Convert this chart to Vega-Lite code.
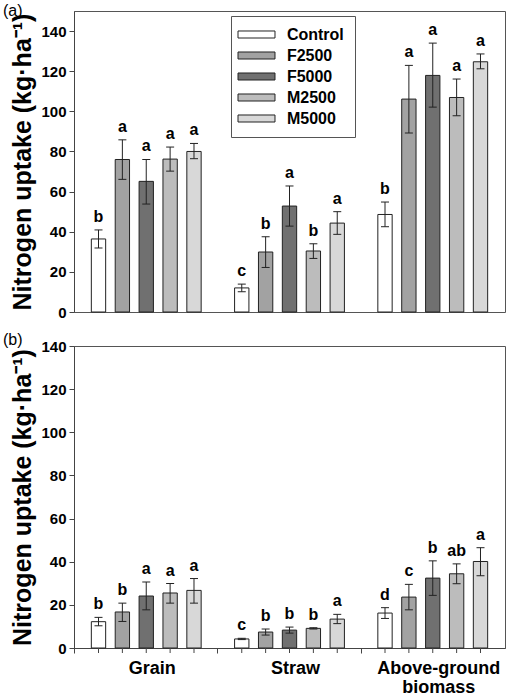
{
  "$schema": "https://vega.github.io/schema/vega-lite/v6.json",
  "padding": {"left": 2, "top": 2, "right": 4, "bottom": 0},
  "config": {
    "font": "Liberation Sans",
    "view": {"stroke": "#555", "strokeWidth": 1},
    "axis": {"domainColor": "#444", "tickColor": "#444", "grid": false},
    "axisY": {
      "values": [0, 20, 40, 60, 80, 100, 120, 140],
      "labelFontSize": 15, "labelFontWeight": "bold", "labelColor": "black",
      "tickSize": 5, "labelPadding": 3,
      "titleFontSize": 25, "titleFontWeight": "bold", "titleColor": "black", "titlePadding": 5
    }
  },
  "datasets": {
    "a": [
      {"part": "Grain", "trt": "Control", "mean": 36.4, "lo": 31.9, "hi": 40.9, "letter": "b"},
      {"part": "Grain", "trt": "F2500", "mean": 76.0, "lo": 66.1, "hi": 85.8, "letter": "a"},
      {"part": "Grain", "trt": "F5000", "mean": 65.1, "lo": 53.8, "hi": 76.0, "letter": "a"},
      {"part": "Grain", "trt": "M2500", "mean": 76.2, "lo": 70.2, "hi": 82.2, "letter": "a"},
      {"part": "Grain", "trt": "M5000", "mean": 80.0, "lo": 76.4, "hi": 84.0, "letter": "a"},
      {"part": "Straw", "trt": "Control", "mean": 12.0, "lo": 10.1, "hi": 13.9, "letter": "c"},
      {"part": "Straw", "trt": "F2500", "mean": 29.9, "lo": 22.2, "hi": 37.5, "letter": "b"},
      {"part": "Straw", "trt": "F5000", "mean": 52.8, "lo": 42.8, "hi": 62.8, "letter": "a"},
      {"part": "Straw", "trt": "M2500", "mean": 30.4, "lo": 26.7, "hi": 34.0, "letter": "b"},
      {"part": "Straw", "trt": "M5000", "mean": 44.3, "lo": 38.7, "hi": 50.0, "letter": "a"},
      {"part": "Above-ground biomass", "trt": "Control", "mean": 48.6, "lo": 42.5, "hi": 54.8, "letter": "b"},
      {"part": "Above-ground biomass", "trt": "F2500", "mean": 106.1, "lo": 89.2, "hi": 122.9, "letter": "a"},
      {"part": "Above-ground biomass", "trt": "F5000", "mean": 117.9, "lo": 102.1, "hi": 134.0, "letter": "a"},
      {"part": "Above-ground biomass", "trt": "M2500", "mean": 106.9, "lo": 97.8, "hi": 116.1, "letter": "a"},
      {"part": "Above-ground biomass", "trt": "M5000", "mean": 124.7, "lo": 121.2, "hi": 128.6, "letter": "a"}
    ],
    "b": [
      {"part": "Grain", "trt": "Control", "mean": 12.2, "lo": 10.3, "hi": 14.2, "letter": "b"},
      {"part": "Grain", "trt": "F2500", "mean": 16.7, "lo": 12.3, "hi": 20.8, "letter": "b"},
      {"part": "Grain", "trt": "F5000", "mean": 24.1, "lo": 17.7, "hi": 30.6, "letter": "a"},
      {"part": "Grain", "trt": "M2500", "mean": 25.5, "lo": 20.8, "hi": 29.9, "letter": "a"},
      {"part": "Grain", "trt": "M5000", "mean": 26.7, "lo": 20.8, "hi": 32.2, "letter": "a"},
      {"part": "Straw", "trt": "Control", "mean": 4.2, "lo": 3.9, "hi": 4.5, "letter": "c"},
      {"part": "Straw", "trt": "F2500", "mean": 7.4, "lo": 6.0, "hi": 8.8, "letter": "b"},
      {"part": "Straw", "trt": "F5000", "mean": 8.3, "lo": 6.9, "hi": 9.7, "letter": "b"},
      {"part": "Straw", "trt": "M2500", "mean": 9.1, "lo": 8.8, "hi": 9.4, "letter": "b"},
      {"part": "Straw", "trt": "M5000", "mean": 13.4, "lo": 11.3, "hi": 15.6, "letter": "a"},
      {"part": "Above-ground biomass", "trt": "Control", "mean": 16.2, "lo": 13.7, "hi": 18.7, "letter": "d"},
      {"part": "Above-ground biomass", "trt": "F2500", "mean": 23.6, "lo": 17.7, "hi": 29.5, "letter": "c"},
      {"part": "Above-ground biomass", "trt": "F5000", "mean": 32.4, "lo": 24.4, "hi": 40.4, "letter": "b"},
      {"part": "Above-ground biomass", "trt": "M2500", "mean": 34.4, "lo": 29.8, "hi": 39.0, "letter": "ab"},
      {"part": "Above-ground biomass", "trt": "M5000", "mean": 40.1, "lo": 33.5, "hi": 46.5, "letter": "a"}
    ]
  },
  "spacing": 10,
  "resolve": {"scale": {"x": "independent", "y": "independent", "fill": "independent"}, "legend": {"fill": "independent"}},
  "vconcat": [
    {
      "width": 431, "height": 301,
      "title": {"text": "(a)", "anchor": "start", "frame": "group", "dx": -71, "offset": -8, "fontSize": 16, "fontWeight": "normal", "color": "black"},
      "data": {"name": "a"},
      "encoding": {
        "x": {"field": "part", "type": "nominal", "scale": {"domain": ["Grain", "Straw", "Above-ground biomass"], "paddingInner": 0.1667, "paddingOuter": 0.0877}, "axis": null},
        "xOffset": {"field": "trt", "type": "nominal", "scale": {"domain": ["Control", "F2500", "F5000", "M2500", "M5000"], "paddingInner": 0.4, "paddingOuter": 0.2}}
      },
      "layer": [
        {
          "mark": {"type": "bar", "stroke": "#222", "strokeWidth": 1},
          "encoding": {
            "y": {"field": "mean", "type": "quantitative", "title": "Nitrogen uptake (kg·ha⁻¹)", "scale": {"domain": [0, 150], "nice": false}},
            "fill": {"field": "trt", "type": "nominal",
              "scale": {"domain": ["Control", "F2500", "F5000", "M2500", "M5000"], "range": ["#ffffff", "#a2a2a2", "#707070", "#bcbcbc", "#d8d8d8"]},
              "legend": {"orient": "none", "legendX": 157, "legendY": 5, "title": null,
                "symbolType": "M-3,-0.57H3V0.57H-3Z", "symbolSize": 152, "symbolOffset": 7, "symbolStrokeColor": "#222", "symbolStrokeWidth": 1,
                "labelFontSize": 16, "labelFontWeight": "bold", "labelColor": "black", "labelOffset": 22.4,
                "padding": 10.5, "strokeColor": "#555", "fillColor": "white", "rowPadding": 5}}
          }
        },
        {"mark": {"type": "rule", "color": "#222", "strokeWidth": 1},
         "encoding": {"y": {"field": "lo", "type": "quantitative", "title": "Nitrogen uptake (kg·ha⁻¹)"}, "y2": {"field": "hi"}}},
        {"mark": {"type": "tick", "color": "#222", "size": 8, "thickness": 1, "opacity": 1},
         "encoding": {"y": {"field": "hi", "type": "quantitative", "title": "Nitrogen uptake (kg·ha⁻¹)"}}},
        {"mark": {"type": "tick", "color": "#222", "size": 8, "thickness": 1, "opacity": 1},
         "encoding": {"y": {"field": "lo", "type": "quantitative", "title": "Nitrogen uptake (kg·ha⁻¹)"}}},
        {"mark": {"type": "text", "dy": -8, "baseline": "alphabetic", "fontSize": 16, "fontWeight": "bold", "color": "black"},
         "encoding": {"y": {"field": "hi", "type": "quantitative", "title": "Nitrogen uptake (kg·ha⁻¹)"}, "text": {"field": "letter"}}}
      ]
    },
    {
      "width": 431, "height": 302,
      "title": {"text": "(b)", "anchor": "start", "frame": "group", "dx": -71, "offset": -9, "fontSize": 16, "fontWeight": "normal", "color": "black"},
      "data": {"name": "b"},
      "encoding": {
        "x": {"field": "part", "type": "nominal", "scale": {"domain": ["Grain", "Straw", "Above-ground biomass"], "paddingInner": 0.1667, "paddingOuter": 0.0877},
          "axis": {"title": null, "labelAngle": 0, "labelFontSize": 18, "labelFontWeight": "bold", "labelColor": "black", "labelPadding": 6,
            "tickSize": 5, "bandPosition": -0.1, "labelOffset": 6, "labelOverlap": false, "labelLineHeight": 19,
            "labelExpr": "datum.label == 'Above-ground biomass' ? ['Above-ground', 'biomass'] : datum.label"}},
        "xOffset": {"field": "trt", "type": "nominal", "scale": {"domain": ["Control", "F2500", "F5000", "M2500", "M5000"], "paddingInner": 0.4, "paddingOuter": 0.2}}
      },
      "layer": [
        {
          "mark": {"type": "bar", "stroke": "#222", "strokeWidth": 1},
          "encoding": {
            "y": {"field": "mean", "type": "quantitative", "title": "Nitrogen uptake (kg·ha⁻¹)", "scale": {"domain": [0, 140], "nice": false}},
            "fill": {"field": "trt", "type": "nominal",
              "scale": {"domain": ["Control", "F2500", "F5000", "M2500", "M5000"], "range": ["#ffffff", "#a2a2a2", "#707070", "#bcbcbc", "#d8d8d8"]},
              "legend": null}
          }
        },
        {"mark": {"type": "rule", "color": "#222", "strokeWidth": 1},
         "encoding": {"y": {"field": "lo", "type": "quantitative", "title": "Nitrogen uptake (kg·ha⁻¹)"}, "y2": {"field": "hi"}}},
        {"mark": {"type": "tick", "color": "#222", "size": 8, "thickness": 1, "opacity": 1},
         "encoding": {"y": {"field": "hi", "type": "quantitative", "title": "Nitrogen uptake (kg·ha⁻¹)"}}},
        {"mark": {"type": "tick", "color": "#222", "size": 8, "thickness": 1, "opacity": 1},
         "encoding": {"y": {"field": "lo", "type": "quantitative", "title": "Nitrogen uptake (kg·ha⁻¹)"}}},
        {"mark": {"type": "text", "dy": -8, "baseline": "alphabetic", "fontSize": 16, "fontWeight": "bold", "color": "black"},
         "encoding": {"y": {"field": "hi", "type": "quantitative", "title": "Nitrogen uptake (kg·ha⁻¹)"}, "text": {"field": "letter"}}},
        {"mark": {"type": "tick", "orient": "vertical", "color": "#444", "size": 5, "thickness": 1, "opacity": 1, "yOffset": 2.5},
         "encoding": {"y": {"datum": 0}}}
      ]
    }
  ]
}
